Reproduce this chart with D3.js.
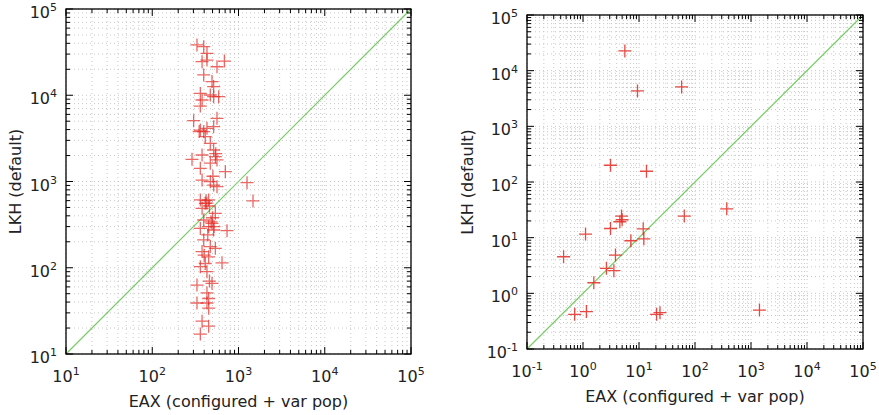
<!DOCTYPE html>
<html>
<head>
<meta charset="utf-8">
<script src="https://cdn.jsdelivr.net/npm/d3@7"></script>
<style>
  body { margin: 0; background: #fff; }
  svg text { font-family: "DejaVu Sans", sans-serif; fill: #222; }
</style>
</head>
<body>
<svg width="879" height="415"></svg>
<script>
// left panel: EAX vs LKH, all instances
var leftX = [330, 395, 431, 378, 431, 563, 686, 395, 493, 515, 361, 471, 589, 378, 361, 515,
    302, 563, 515, 361, 395, 431, 412, 471, 515, 289, 378, 539, 563, 471, 361, 704,
    378, 471, 515, 563, 1256, 1473, 361, 412, 451, 378, 539, 395, 493, 361, 515, 451,
    736, 395, 471, 539, 378, 451, 412, 644, 361, 431, 493, 330, 431, 451, 330, 431,
    451, 378, 451, 361, 420, 460, 500, 480, 440, 520, 400, 460, 545, 505, 350, 430];
var leftY = [38300, 36600, 30600, 24500, 25600, 21400, 24900, 17200, 14400, 12600, 10500, 10070, 9630, 8810, 7500, 9630,
    5070, 5400, 4320, 3950, 3780, 4130, 3310, 2770, 2320, 1810, 2030, 1940, 1780, 1630, 1420, 1300,
    1040, 995, 910, 871, 969, 595, 611, 558, 611, 489, 428, 358, 327, 286, 274, 299,
    269, 210, 176, 168, 154, 134, 112, 114, 103, 90, 66, 63, 51, 44, 39, 39,
    34, 24, 21, 17, 600, 520, 380, 340, 240, 300, 140, 70, 2100, 1150, 3800, 560];

// right panel: the small instances
var rightX = [5.59, 9.4, 57.7, 3.1, 13.6, 369, 64.4, 4.88, 4.55, 3.1, 1.11, 11.9,
    12.2, 7.16, 3.8, 0.45, 2.62, 3.56, 1.56, 0.71, 1.15, 20.6, 23.7, 1416, 5.0];
var rightY = [22600, 4330, 5100, 200, 156, 33, 24.4, 24.4, 19.3, 14.6, 11.6, 14.4,
    9.55, 8.8, 4.86, 4.54, 2.81, 2.55, 1.55, 0.42, 0.47, 0.42, 0.45, 0.50, 21];

var leftDecades = [1, 2, 3, 4, 5];
var rightDecades = [-1, 0, 1, 2, 3, 4, 5];

var xTitle = "EAX (configured + var pop)",
    yTitle = "LKH (default)";

var svg = d3.select("svg");

drawPanel({ x0: 66, x1: 411, y0: 9, y1: 354, decades: leftDecades,
    xs: leftX, ys: leftY, ylabelX: 21, yTickX: 57, alpha: 0.7 });
drawPanel({ x0: 527, x1: 863, y0: 15, y1: 349, decades: rightDecades,
    xs: rightX, ys: rightY, ylabelX: 473, yTickX: 518, alpha: 0.85 });

function drawPanel(p) {
    var lo = Math.pow(10, p.decades[0]),
        hi = Math.pow(10, p.decades[p.decades.length - 1]);
    var x = d3.scaleLog().domain([lo, hi]).range([p.x0, p.x1]),
        y = d3.scaleLog().domain([lo, hi]).range([p.y1, p.y0]);

    var major = p.decades.map(function(d) { return Math.pow(10, d); });
    var minor = [];
    p.decades.slice(0, -1).forEach(function(d) {
        for (var k = 2; k <= 9; k++) minor.push(k * Math.pow(10, d));
    });
    var all = major.concat(minor);

    var g = svg.append("g");

    // dotted grid
    g.selectAll(".gx").data(all).enter().append("line")
        .attr("x1", function(d) { return x(d); }).attr("x2", function(d) { return x(d); })
        .attr("y1", p.y0).attr("y2", p.y1)
        .attr("stroke", "#c8c8c8").attr("stroke-dasharray", "1,3");
    g.selectAll(".gy").data(all).enter().append("line")
        .attr("y1", function(d) { return y(d); }).attr("y2", function(d) { return y(d); })
        .attr("x1", p.x0).attr("x2", p.x1)
        .attr("stroke", "#c8c8c8").attr("stroke-dasharray", "1,3");

    // y = x line
    g.append("line")
        .attr("x1", x(lo)).attr("y1", y(lo))
        .attr("x2", x(hi)).attr("y2", y(hi))
        .attr("stroke", "#77cc66").attr("stroke-width", 1.2);

    // markers
    var pts = p.xs.map(function(v, i) { return [v, p.ys[i]]; });
    var s = 6.5;
    g.selectAll(".pt").data(pts).enter().append("path")
        .attr("d", function(d) {
            var cx = x(d[0]), cy = y(d[1]);
            return "M" + (cx - s) + "," + cy + "H" + (cx + s) + "M" + cx + "," + (cy - s) + "V" + (cy + s);
        })
        .attr("stroke", "#e32a22").attr("stroke-width", 1.3)
        .attr("stroke-opacity", p.alpha).attr("fill", "none");

    // ticks on all four sides, pointing inward
    function tickLen(d) { return major.indexOf(d) >= 0 ? 7 : 4; }
    all.forEach(function(d) {
        var tx = x(d), ty = y(d), L = tickLen(d);
        g.append("line").attr("x1", tx).attr("x2", tx).attr("y1", p.y1).attr("y2", p.y1 - L).attr("stroke", "#000");
        g.append("line").attr("x1", tx).attr("x2", tx).attr("y1", p.y0).attr("y2", p.y0 + L).attr("stroke", "#000");
        g.append("line").attr("y1", ty).attr("y2", ty).attr("x1", p.x0).attr("x2", p.x0 + L).attr("stroke", "#000");
        g.append("line").attr("y1", ty).attr("y2", ty).attr("x1", p.x1).attr("x2", p.x1 - L).attr("stroke", "#000");
    });

    g.append("rect")
        .attr("x", p.x0).attr("y", p.y0)
        .attr("width", p.x1 - p.x0).attr("height", p.y1 - p.y0)
        .attr("fill", "none").attr("stroke", "#000").attr("stroke-width", 1.3);

    // tick labels as 10 with superscript exponent
    function powLabel(sel, e) {
        sel.append("tspan").text("10");
        sel.append("tspan").attr("font-size", 11).attr("dy", -7).text(e < 0 ? "-" + (-e) : e);
    }
    p.decades.forEach(function(e) {
        var v = Math.pow(10, e);
        var tx = g.append("text")
            .attr("x", x(v)).attr("y", p.y1 + 28)
            .attr("text-anchor", "middle").attr("font-size", 16);
        powLabel(tx, e);
        var ty = g.append("text")
            .attr("x", p.yTickX).attr("y", y(v) + 9)
            .attr("text-anchor", "end").attr("font-size", 16);
        powLabel(ty, e);
    });

    g.append("text")
        .attr("x", (p.x0 + p.x1) / 2).attr("y", p.y1 + 53)
        .attr("text-anchor", "middle").attr("font-size", 16)
        .text(xTitle);
    g.append("text")
        .attr("transform", "translate(" + p.ylabelX + "," + ((p.y0 + p.y1) / 2) + ") rotate(-90)")
        .attr("text-anchor", "middle").attr("font-size", 16)
        .text(yTitle);
}
</script>
</body>
</html>
